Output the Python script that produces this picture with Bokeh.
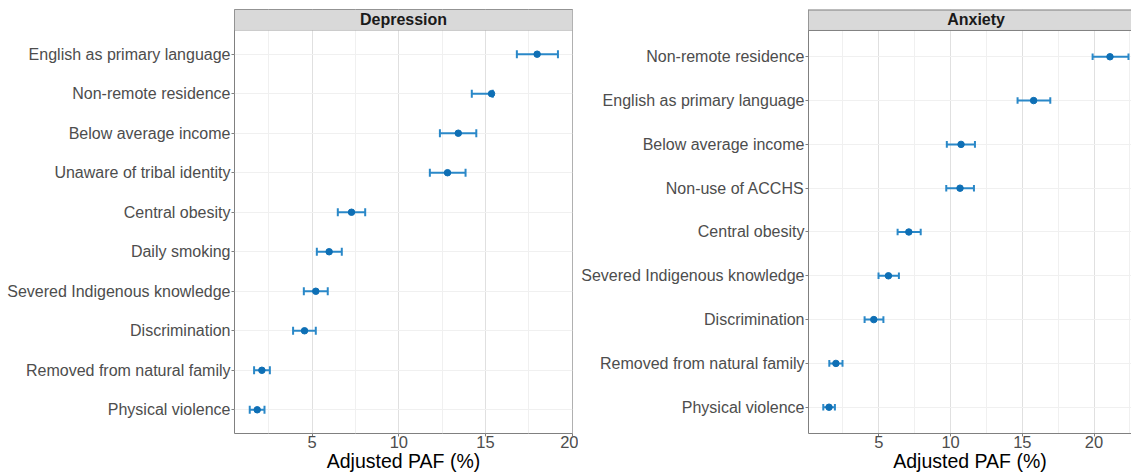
from bokeh.plotting import figure
from bokeh.layouts import row
from bokeh.models import FixedTicker, Range1d, BoxAnnotation, Label, Span
from bokeh.embed import file_html
from bokeh.resources import INLINE

# ---------------- data ----------------
dep_factors = ["English as primary language", "Non-remote residence", "Below average income",
               "Unaware of tribal identity", "Central obesity", "Daily smoking",
               "Severed Indigenous knowledge", "Discrimination", "Removed from natural family",
               "Physical violence"]
dep_paf = [17.98, 15.35, 13.43, 12.81, 7.27, 5.98, 5.21, 4.56, 2.10, 1.83]
dep_lo = [16.81, 14.21, 12.37, 11.79, 6.48, 5.27, 4.52, 3.90, 1.65, 1.40]
dep_hi = [19.18, 15.42, 14.47, 13.85, 8.06, 6.71, 5.90, 5.21, 2.56, 2.25]

anx_factors = ["Non-remote residence", "English as primary language", "Below average income",
               "Non-use of ACCHS", "Central obesity", "Severed Indigenous knowledge",
               "Discrimination", "Removed from natural family", "Physical violence"]
anx_paf = [21.11, 15.79, 10.73, 10.66, 7.09, 5.67, 4.65, 2.01, 1.53]
anx_lo = [19.90, 14.67, 9.74, 9.70, 6.31, 4.98, 4.01, 1.55, 1.13]
anx_hi = [22.40, 16.95, 11.70, 11.63, 7.92, 6.40, 5.32, 2.47, 1.94]

x_ticks = [5, 10, 15, 20]
x_minor = [2.5, 7.5, 12.5, 17.5, 22.5]
x_title = "Adjusted PAF (%)"

FONT = "Liberation Sans"
BORDER = "#808080"
PT_COLOR = "#0E6FB5"
BAR_COLOR = "#2A88C8"


def panel(title, factors, paf, lo, hi, width, bl, br, xs, xe, xfull, strip_units, cap, outline):
    n = len(factors)
    ys = [n - i for i in range(n)]
    y_end = n + 0.6 + strip_units
    p = figure(width=width, height=474, x_range=Range1d(xs, xe), y_range=Range1d(0.4, y_end),
               output_backend="svg", toolbar_location=None,
               min_border_left=bl, min_border_right=br, min_border_top=9, min_border_bottom=41)
    p.background_fill_color = "white"
    p.border_fill_color = "white"
    p.outline_line_color = BORDER if outline else None
    p.outline_line_width = 1

    # grids
    p.xgrid.ticker = FixedTicker(ticks=x_ticks, minor_ticks=x_minor)
    p.xgrid.grid_line_color = "#E0E0E0"
    p.xgrid.grid_line_width = 1
    p.xgrid.minor_grid_line_color = "#F0F0F0"
    p.ygrid.ticker = FixedTicker(ticks=ys)
    p.ygrid.grid_line_color = "#F0F0F0"

    # x axis
    ax = p.xaxis[0]
    ax.ticker = FixedTicker(ticks=x_ticks, minor_ticks=x_minor)
    ax.minor_tick_line_color = None
    ax.major_tick_in = 0
    ax.major_tick_out = 3
    ax.major_tick_line_color = BORDER
    ax.axis_line_color = None if outline else BORDER
    ax.major_label_text_font = FONT
    ax.major_label_text_font_size = "16.5px"
    ax.major_label_text_color = "#4D4D4D"
    ax.major_label_standoff = -2
    ax.axis_label = x_title
    ax.axis_label_text_font = FONT
    ax.axis_label_text_font_size = "19.5px"
    ax.axis_label_text_font_style = "normal"
    ax.axis_label_text_color = "#000000"
    ax.axis_label_standoff = -1

    # y axis
    ay = p.yaxis[0]
    ay.ticker = FixedTicker(ticks=ys)
    ay.major_label_overrides = {y: f for y, f in zip(ys, factors)}
    ay.minor_tick_line_color = None
    ay.major_tick_in = 0
    ay.major_tick_out = 3
    ay.major_tick_line_color = BORDER
    ay.axis_line_color = None if outline else BORDER
    ay.major_label_text_font = FONT
    ay.major_label_text_font_size = "16px"
    ay.major_label_text_color = "#4D4D4D"
    ay.major_label_standoff = 1

    # error bars and points
    p.segment(x0=lo, y0=ys, x1=hi, y1=ys, line_color=BAR_COLOR, line_width=2)
    p.segment(x0=lo, y0=[y - cap for y in ys], x1=lo, y1=[y + cap for y in ys],
              line_color=BAR_COLOR, line_width=2)
    p.segment(x0=hi, y0=[y - cap for y in ys], x1=hi, y1=[y + cap for y in ys],
              line_color=BAR_COLOR, line_width=2)
    p.scatter(x=paf, y=ys, marker="circle", size=6.5, fill_color=PT_COLOR, line_color=PT_COLOR)

    # facet strip
    strip_bottom = n + 0.6
    p.add_layout(BoxAnnotation(bottom=strip_bottom, fill_color="#D9D9D9", fill_alpha=1.0,
                               line_color=BORDER if outline else None, line_width=1))
    if not outline:
        p.add_layout(Span(location=strip_bottom, dimension="width", line_color=BORDER, line_width=1))
        p.add_layout(Span(location=y_end, dimension="width", line_color=BORDER, line_width=2))
    p.add_layout(Label(x=(xs + xfull) / 2, y=strip_bottom + strip_units / 2, text=title,
                       text_align="center", text_baseline="middle", text_font=FONT,
                       text_font_size="16px", text_font_style="bold", text_color="#1A1A1A"))
    return p


p1 = panel("Depression", dep_factors, dep_paf, dep_lo, dep_hi, width=578, bl=234, br=6,
           xs=0.52, xe=20.02, xfull=20.02, strip_units=0.531, cap=0.1, outline=True)
p2 = panel("Anxiety", anx_factors, anx_paf, anx_lo, anx_hi, width=553, bl=227, br=0,
           xs=0.10, xe=22.61, xfull=23.46, strip_units=0.479, cap=0.075, outline=False)

layout = row(p1, p2)
open("out.html", "w").write(file_html(layout, INLINE))
